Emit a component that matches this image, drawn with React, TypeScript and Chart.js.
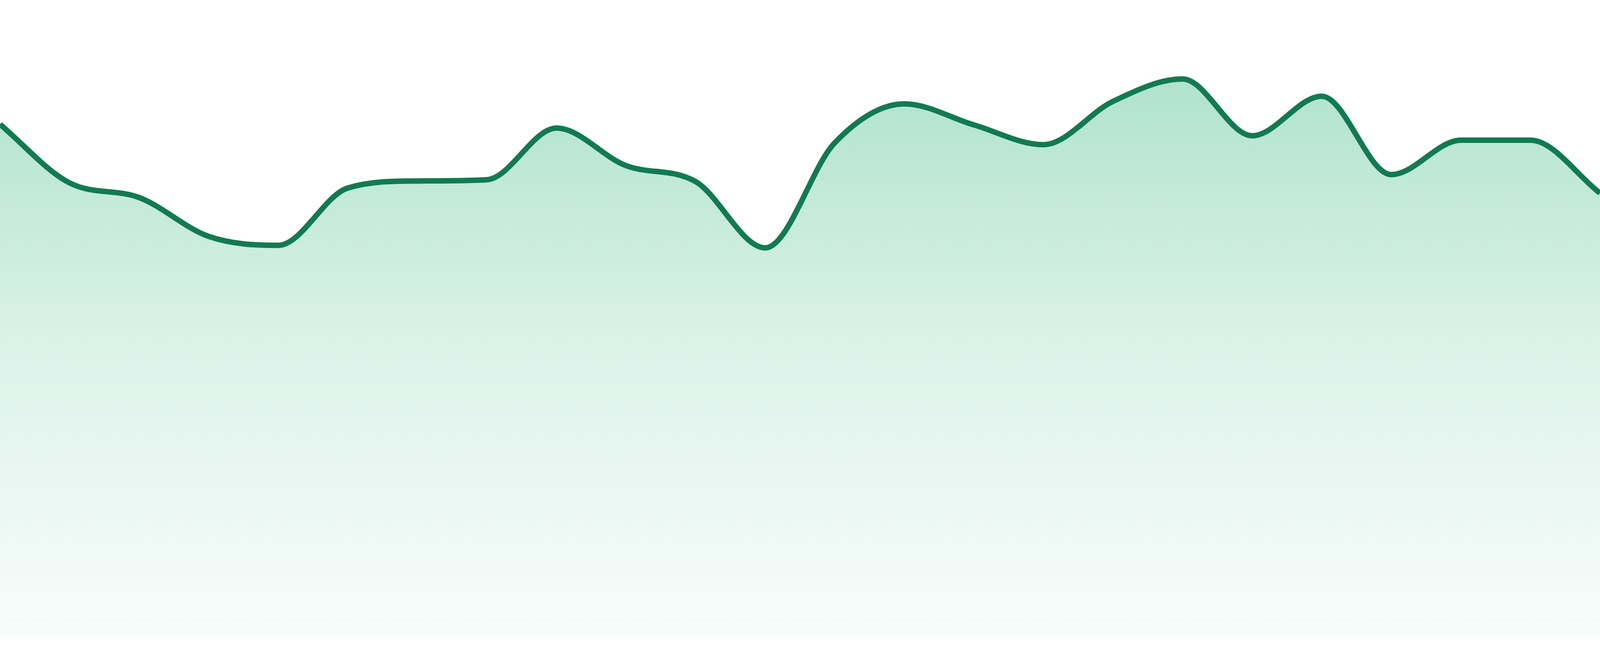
import { useEffect, useRef } from 'react';
import { Chart, ChartConfiguration, registerables } from 'chart.js';

Chart.register(...registerables);

const hours = [
  '00:00', '01:00', '02:00', '03:00', '04:00', '05:00', '06:00', '07:00',
  '08:00', '09:00', '10:00', '11:00', '12:00', '13:00', '14:00', '15:00',
  '16:00', '17:00', '18:00', '19:00', '20:00', '21:00', '22:00', '23:00'
];

const values = [
  80.5, 71.3, 69.0, 62.9, 61.5, 70.5, 71.6, 71.8,
  79.9, 74.0, 71.5, 61.1, 77.6, 83.7, 80.4, 77.3,
  84.1, 87.6, 78.7, 84.9, 72.6, 78.0, 78.0, 69.7
];

const yMin = 0;
const yMax = 100;

export default function App() {
  const canvasRef = useRef<HTMLCanvasElement | null>(null);
  const chartRef = useRef<Chart | null>(null);

  useEffect(() => {
    document.body.style.margin = '0';
    if (!canvasRef.current) {
      return;
    }
    const ctx = canvasRef.current.getContext('2d');
    if (!ctx) {
      return;
    }
    const config: ChartConfiguration<'line', number[], string> = {
      type: 'line',
      data: {
        labels: hours,
        datasets: [
          {
            data: values,
            borderColor: '#127a52',
            borderWidth: 14,
            cubicInterpolationMode: 'monotone',
            pointRadius: 0,
            fill: 'origin',
            backgroundColor: (context) => {
              const area = context.chart.chartArea;
              if (!area) {
                return 'rgba(20, 170, 110, 0.2)';
              }
              const g = context.chart.ctx.createLinearGradient(0, area.top, 0, area.bottom);
              g.addColorStop(0, 'rgba(20, 170, 110, 0.39)');
              g.addColorStop(0.55, 'rgba(20, 170, 110, 0.15)');
              g.addColorStop(1, 'rgba(20, 170, 110, 0.03)');
              return g;
            }
          }
        ]
      },
      options: {
        responsive: true,
        maintainAspectRatio: false,
        animation: false,
        layout: {
          padding: { top: 0, left: 0, right: 0, bottom: 48 }
        },
        scales: {
          x: { display: false },
          y: { display: false, min: yMin, max: yMax }
        },
        plugins: {
          legend: { display: false },
          tooltip: { enabled: false }
        }
      }
    };

    if (chartRef.current) {
      chartRef.current.destroy();
    }
    chartRef.current = new Chart(ctx, config);

    return () => {
      chartRef.current?.destroy();
      chartRef.current = null;
    };
  }, []);

  return (
    <div style={{ position: 'fixed', left: 0, top: 0, width: '100vw', height: '100vh', background: '#ffffff' }}>
      <canvas ref={canvasRef} aria-label="sparkline" role="img" />
    </div>
  );
}
